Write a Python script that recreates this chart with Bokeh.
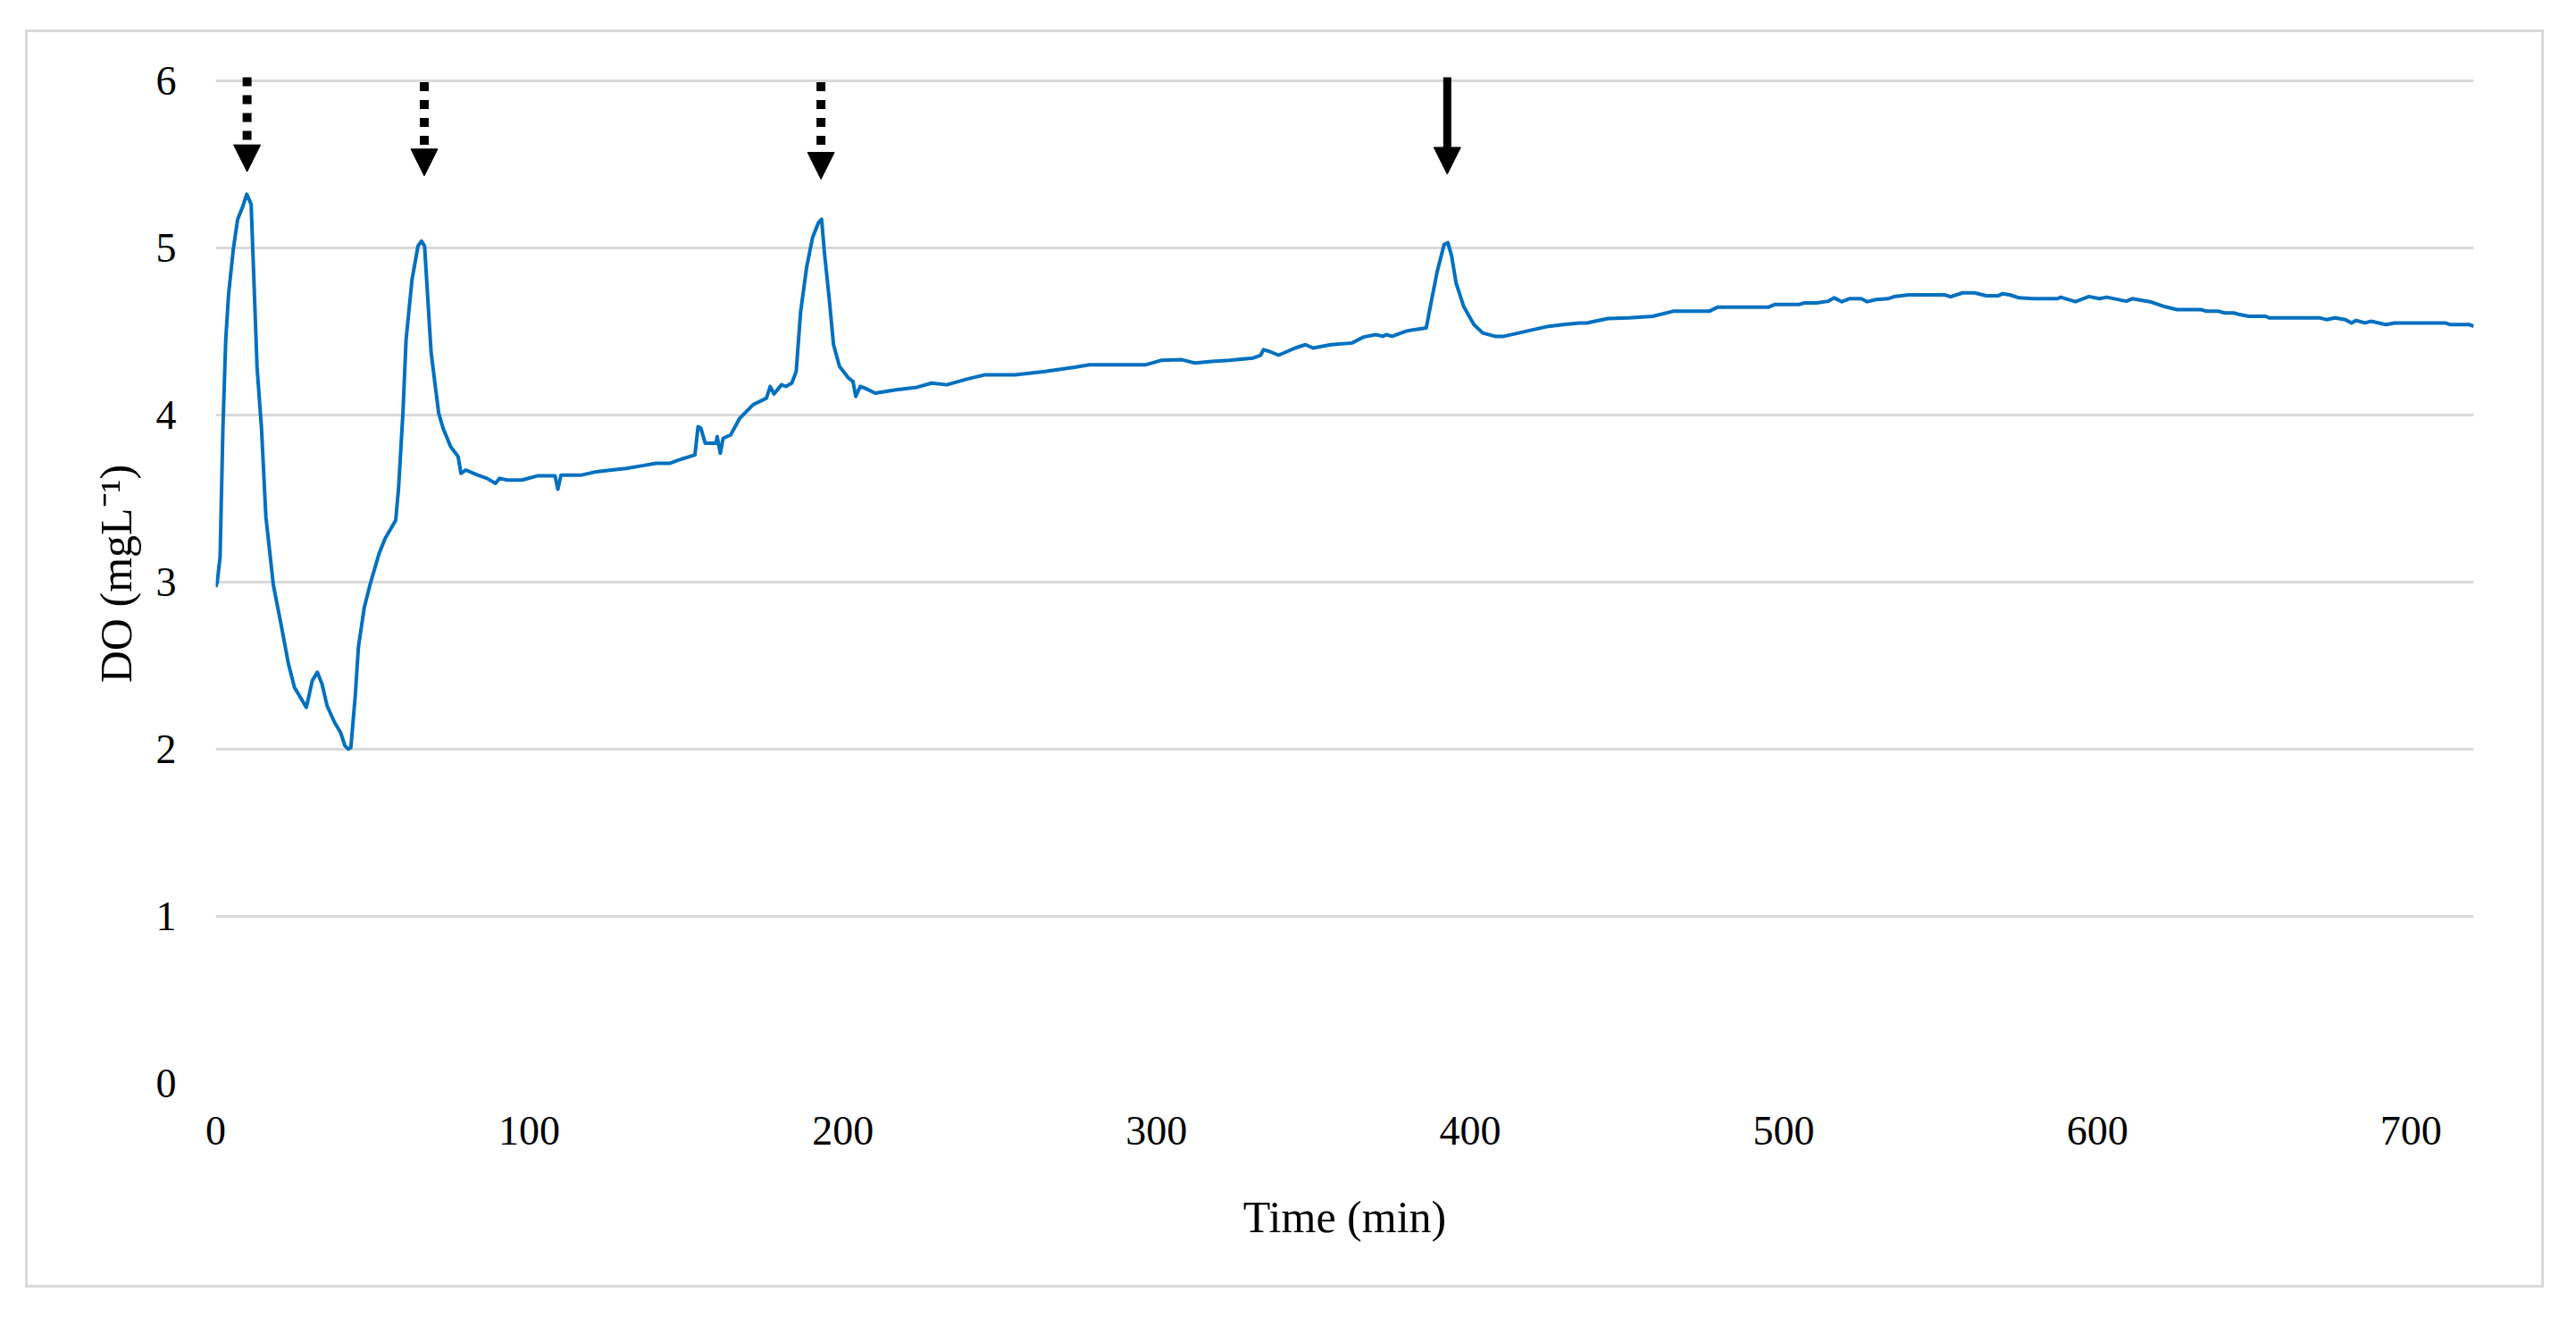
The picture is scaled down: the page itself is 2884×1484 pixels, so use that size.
from bokeh.plotting import figure
from bokeh.layouts import column
from bokeh.models import (ColumnDataSource, Range1d, FixedTicker, Arrow,
                          NormalHead)
from bokeh.embed import file_html
from bokeh.resources import INLINE

# ---- data ----
time_min = [
    0.0, 0.5, 1.4, 2.3, 3.2, 4.1, 5.6, 7.0, 8.5, 9.9, 11.3, 13.2, 14.6, 16.0,
    18.4, 20.8, 23.2, 25.1, 27.0, 28.9, 30.8, 32.4, 33.9, 35.5, 37.9, 39.8,
    41.2, 42.3, 43.1, 44.5, 45.5, 47.4, 49.3, 52.1, 54.0, 57.4, 58.3, 59.7,
    60.7, 62.6, 64.5, 65.6, 66.6, 68.7, 71.1, 72.5, 74.9, 77.3, 78.2, 79.7,
    83.5, 86.5, 89.2, 90.5, 93.0, 97.7, 102.5, 108.2, 109.1, 110.1, 116.7,
    121.4, 126.2, 130.9, 135.7, 140.4, 144.7, 147.6, 152.8, 153.8, 154.7,
    156.1, 159.5, 159.9, 160.9, 161.8, 164.2, 167.1, 171.3, 175.6, 176.8,
    178.0, 180.4, 181.8, 183.7, 185.1, 186.5, 188.4, 190.3, 192.2, 193.2,
    194.1, 195.6, 197.0, 198.9, 201.8, 203.2, 204.1, 205.5, 207.0, 210.3,
    216.9, 223.6, 228.3, 233.1, 239.7, 245.4, 254.9, 264.4, 273.9, 278.6,
    288.1, 296.7, 301.4, 308.1, 312.3, 317.5, 323.2, 330.8, 333.2, 334.1,
    336.0, 338.9, 344.2, 347.5, 349.9, 355.6, 362.3, 366.1, 369.9, 372.2,
    373.2, 375.1, 379.4, 382.2, 386.0, 387.0, 389.4, 391.7, 392.9, 394.1,
    395.5, 397.9, 401.2, 404.0, 407.9, 410.7, 415.5, 420.2, 425.0, 429.7,
    434.9, 437.2, 443.9, 450.6, 458.2, 464.7, 476.2, 479.0, 495.2, 497.1,
    504.7, 506.6, 510.4, 514.2, 516.1, 518.5, 520.9, 524.7, 526.6, 529.4,
    533.2, 535.1, 539.8, 551.3, 553.2, 557.0, 560.8, 564.6, 568.4, 569.8,
    572.1, 575.0, 579.7, 587.3, 588.3, 593.0, 597.3, 600.6, 603.0, 609.2,
    611.1, 616.8, 621.6, 625.4, 633.0, 634.9, 638.7, 640.6, 643.5, 645.4,
    648.2, 653.5, 654.9, 671.0, 673.0, 675.8, 679.1, 681.0, 682.5, 685.3,
    687.2, 692.0, 694.8, 711.0, 712.5, 718.7, 720.0,
]
do_mgL = [
    2.97, 3.00, 3.15, 3.92, 4.45, 4.72, 4.99, 5.17, 5.24, 5.32, 5.26, 4.28, 3.92, 3.39,
    2.98, 2.75, 2.51, 2.37, 2.31, 2.25, 2.41, 2.46, 2.39, 2.26, 2.16, 2.10,
    2.02, 2.00, 2.01, 2.32, 2.61, 2.85, 2.99, 3.17, 3.26, 3.37, 3.56, 4.01,
    4.45, 4.81, 5.01, 5.04, 5.01, 4.37, 4.01, 3.92, 3.81, 3.75, 3.65, 3.67,
    3.64, 3.62, 3.59, 3.62, 3.61, 3.61, 3.635, 3.635, 3.555, 3.64, 3.64,
    3.66, 3.67, 3.68, 3.695, 3.71, 3.71, 3.73, 3.76, 3.93, 3.92,
    3.83, 3.83, 3.87, 3.77, 3.86, 3.88, 3.98, 4.06, 4.10, 4.17,
    4.125, 4.18, 4.17, 4.19, 4.26, 4.615, 4.88, 5.06, 5.15, 5.17,
    4.97, 4.70, 4.42, 4.29, 4.22, 4.20, 4.11, 4.17, 4.16, 4.13,
    4.15, 4.165, 4.19, 4.18, 4.215, 4.24, 4.24, 4.26, 4.285, 4.30,
    4.30, 4.30, 4.326, 4.33, 4.31, 4.32, 4.326, 4.34, 4.357, 4.39,
    4.38, 4.357, 4.40, 4.42, 4.40, 4.42, 4.43, 4.466, 4.48, 4.47,
    4.48, 4.47, 4.50, 4.51, 4.52, 4.62, 4.85, 5.02, 5.03, 4.95,
    4.79, 4.65, 4.54, 4.49, 4.47, 4.47, 4.49, 4.51, 4.53, 4.54,
    4.55, 4.55, 4.576, 4.58, 4.59, 4.62, 4.62, 4.645, 4.645, 4.66,
    4.66, 4.67, 4.67, 4.68, 4.70, 4.677, 4.695, 4.695, 4.677, 4.69,
    4.695, 4.707, 4.718, 4.718, 4.707, 4.73, 4.73, 4.713, 4.713, 4.725,
    4.718, 4.70, 4.695, 4.695, 4.704, 4.677, 4.708, 4.695, 4.704, 4.68,
    4.695, 4.677, 4.647, 4.63, 4.63, 4.62, 4.62, 4.61, 4.61, 4.60,
    4.59, 4.59, 4.58, 4.58, 4.57, 4.58, 4.57, 4.55, 4.565, 4.55,
    4.56, 4.54, 4.55, 4.55, 4.54, 4.54, 4.53,
]
assert len(time_min) == len(do_mgL)

x_ticks = [0, 100, 200, 300, 400, 500, 600, 700]
y_ticks = [0, 1, 2, 3, 4, 5, 6]

# aeration arrows (dotted) and final arrow (solid)
arrow_time_dotted = [10.0, 66.5, 193.0]
arrow_top_dotted = [6.02, 5.99, 5.99]
arrow_tip_dotted = [5.455, 5.43, 5.41]
arrow_time_solid = [392.7]
arrow_top_solid = [6.02]
arrow_tip_solid = [5.44]

FONT = "Liberation Serif"
GRID = "#d9d9d9"

p = figure(width=2814, height=1402, output_backend="svg", toolbar_location=None,
           x_range=Range1d(0, 720), y_range=Range1d(0, 6.1),
           min_border_left=210, min_border_right=76,
           min_border_top=35, min_border_bottom=226,
           background_fill_color="white", border_fill_color="white")
p.outline_line_color = None

# axes
for ax in (p.xaxis[0], p.yaxis[0]):
    ax.axis_line_color = None
    ax.major_tick_line_color = None
    ax.minor_tick_line_color = None
    ax.major_tick_out = 0
    ax.major_tick_in = 0
    ax.major_label_text_font = FONT
    ax.major_label_text_font_size = "46px"
    ax.major_label_text_color = "black"
    ax.axis_label_text_font = FONT
    ax.axis_label_text_font_size = "50px"
    ax.axis_label_text_font_style = "normal"
    ax.axis_label_text_color = "black"

p.xaxis.ticker = FixedTicker(ticks=x_ticks)
p.yaxis.ticker = FixedTicker(ticks=y_ticks)
p.xaxis.axis_label = "Time (min)"
p.yaxis.axis_label = "DO (mgL\u207b\u00b9)"
p.xaxis.major_label_standoff = 37
p.yaxis.major_label_standoff = 44
p.xaxis.axis_label_standoff = 50
p.yaxis.axis_label_standoff = 14

p.xgrid.visible = False
p.ygrid.grid_line_color = GRID
p.ygrid.grid_line_width = 3

# data line
src = ColumnDataSource(dict(t=time_min, do=do_mgL))
p.line("t", "do", source=src, line_color="#0070C0", line_width=4,
       line_join="round")

# arrows
dsrc = ColumnDataSource(dict(x0=arrow_time_dotted, y0=arrow_top_dotted,
                             x1=arrow_time_dotted, y1=arrow_tip_dotted))
p.add_layout(Arrow(end=NormalHead(size=30, fill_color="black",
                                  line_color="black", line_width=1),
                   x_start="x0", y_start="y0", x_end="x1", y_end="y1",
                   source=dsrc, line_color="black", line_width=10,
                   line_dash="10 10"))
ssrc = ColumnDataSource(dict(x0=arrow_time_solid, y0=arrow_top_solid,
                             x1=arrow_time_solid, y1=arrow_tip_solid))
p.add_layout(Arrow(end=NormalHead(size=30, fill_color="black",
                                  line_color="black", line_width=1),
                   x_start="x0", y_start="y0", x_end="x1", y_end="y1",
                   source=ssrc, line_color="black", line_width=9))

# outer light-grey frame around the whole chart
layout = column(p, margin=(33, 0, 0, 28),
                styles={"border": "3px solid #d9d9d9"})

open("out.html", "w").write(file_html(layout, INLINE))
